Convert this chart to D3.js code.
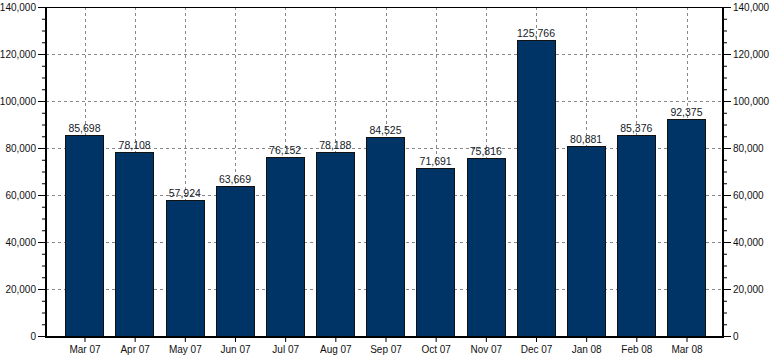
<!DOCTYPE html>
<html><head><meta charset="utf-8">
<script src="https://cdn.jsdelivr.net/npm/d3@7/dist/d3.min.js"></script>
<style>body{margin:0;background:#fff}svg{display:block}text{font-family:Arial,"Liberation Sans",sans-serif}</style>
</head><body>
<svg id="c" width="774" height="361"></svg>
<script>
const categories = ["Mar 07","Apr 07","May 07","Jun 07","Jul 07","Aug 07","Sep 07","Oct 07","Nov 07","Dec 07","Jan 08","Feb 08","Mar 08"];
const values = [85698,78108,57924,63669,76152,78188,84525,71691,75816,125766,80881,85376,92375];
const yTicks = [0,20000,40000,60000,80000,100000,120000,140000];
const yMinorTicks = d3.range(0,140001,5000);

const svg = d3.select("#c");
const L = 46, R = 723, T = 7, B = 336;
const y = d3.scaleLinear().domain([0,140000]).range([B,T]);
const x = d3.scalePoint().domain(categories).range([84.5,686.5]);
const bw = 38.4;
const fmt = d3.format(",");

// grid
const g = svg.append("g");
g.selectAll("line.h").data(yTicks.slice(1,-1)).join("line")
  .attr("x1",L).attr("x2",R).attr("y1",d=>Math.round(y(d))+0.5).attr("y2",d=>Math.round(y(d))+0.5)
  .attr("stroke","#888").attr("stroke-dasharray","3,3");
g.selectAll("line.v").data(categories).join("line")
  .attr("x1",d=>Math.round(x(d))+0.5).attr("x2",d=>Math.round(x(d))+0.5).attr("y1",T).attr("y2",B)
  .attr("stroke","#888").attr("stroke-dasharray","3,3");

// bars
svg.append("g").selectAll("rect").data(values).join("rect")
  .attr("x",(d,i)=>Math.round(x(categories[i])-bw/2)+0.5)
  .attr("width",Math.round(bw))
  .attr("y",d=>Math.round(y(d))+0.5)
  .attr("height",d=>B-Math.round(y(d)))
  .attr("fill","#003366").attr("stroke","#111").attr("stroke-width",1);

// value labels
svg.append("g").selectAll("text").data(values).join("text")
  .attr("x",(d,i)=>x(categories[i]))
  .attr("y",d=>y(d)-3)
  .attr("text-anchor","middle").attr("font-size",10.5).attr("fill","#151a28")
  .text(d=>fmt(d));

// left axis
const yl = svg.append("g").attr("transform",`translate(${L},0)`)
  .call(d3.axisLeft(y).tickValues(yMinorTicks).tickSize(4).tickFormat(""));
yl.select(".domain").remove();
const yl2 = svg.append("g").attr("transform",`translate(${L},0)`)
  .call(d3.axisLeft(y).tickValues(yTicks).tickSize(8).tickPadding(2).tickFormat(fmt));
yl2.select(".domain").remove();
// right axis
const yr = svg.append("g").attr("transform",`translate(${R},0)`)
  .call(d3.axisRight(y).tickValues(yMinorTicks).tickSize(4).tickFormat(""));
yr.select(".domain").remove();
const yr2 = svg.append("g").attr("transform",`translate(${R},0)`)
  .call(d3.axisRight(y).tickValues(yTicks).tickSize(8).tickPadding(2).tickFormat(fmt));
yr2.select(".domain").remove();
// bottom axis
const xa = svg.append("g").attr("transform",`translate(0,${B})`)
  .call(d3.axisBottom(x).tickSize(6).tickPadding(4));
xa.select(".domain").remove();
svg.selectAll(".tick text").attr("font-size",10).attr("fill","#111").attr("font-family","Arial,'Liberation Sans',sans-serif");
svg.selectAll(".tick line").attr("stroke","#000");

// frame
svg.append("line").attr("x1",L).attr("x2",R).attr("y1",T+0.5).attr("y2",T+0.5).attr("stroke","#000");
svg.append("line").attr("x1",L).attr("x2",R+1).attr("y1",B+1).attr("y2",B+1).attr("stroke","#000").attr("stroke-width",2);
svg.append("line").attr("x1",L).attr("x2",L).attr("y1",T).attr("y2",B+2).attr("stroke","#000").attr("stroke-width",2);
svg.append("line").attr("x1",R).attr("x2",R).attr("y1",T).attr("y2",B+2).attr("stroke","#000").attr("stroke-width",2);
</script>
</body></html>
